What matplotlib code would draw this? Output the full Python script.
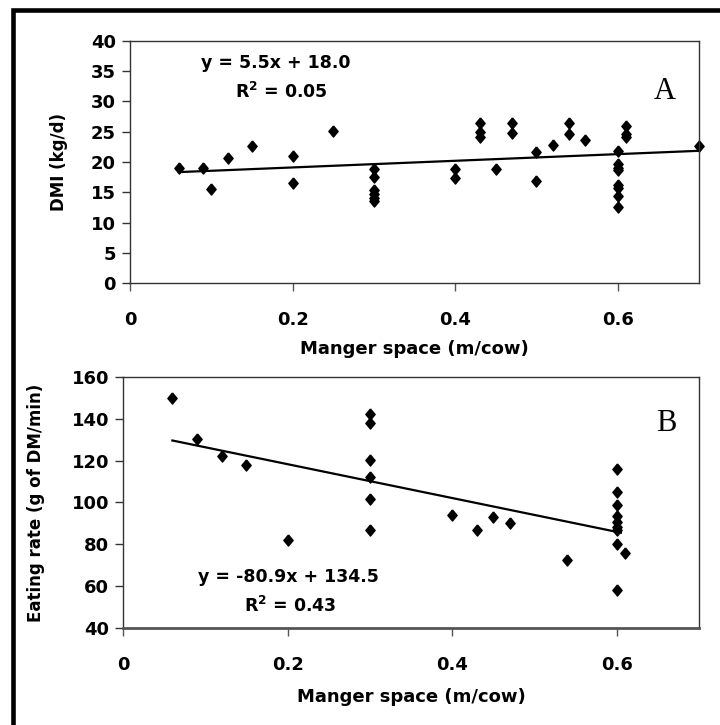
import numpy as np
import matplotlib
matplotlib.use('Agg')
import matplotlib.pyplot as plt
from matplotlib.patches import Rectangle

# Panel A: dry matter intake vs manger space
dmi_x = [0.06, 0.09, 0.10, 0.12, 0.15, 0.20, 0.20, 0.25,
         0.30, 0.30, 0.30, 0.30, 0.30, 0.30,
         0.40, 0.40, 0.43, 0.43, 0.43, 0.45, 0.47, 0.47,
         0.50, 0.50, 0.52, 0.54, 0.54, 0.56,
         0.60, 0.60, 0.60, 0.60, 0.60, 0.60, 0.60, 0.60,
         0.61, 0.61, 0.61, 0.70]
dmi_y = [19.0, 19.0, 15.6, 20.6, 22.7, 21.0, 16.6, 25.1,
         18.8, 17.6, 15.4, 14.7, 14.1, 13.5,
         18.8, 17.3, 26.5, 25.0, 24.2, 18.8, 26.5, 24.8,
         21.6, 16.8, 22.8, 26.4, 24.6, 23.6,
         21.9, 19.6, 19.0, 18.6, 16.2, 15.7, 14.3, 12.6,
         26.0, 24.6, 24.2, 22.6]
dmi_fit = (5.5, 18.0)
dmi_range = [0.06, 0.70]

# Panel B: eating rate vs manger space
rate_x = [0.06, 0.09, 0.12, 0.15, 0.20,
          0.30, 0.30, 0.30, 0.30, 0.30, 0.30,
          0.40, 0.43, 0.45, 0.47, 0.54,
          0.60, 0.60, 0.60, 0.60, 0.60, 0.60, 0.60, 0.60, 0.60,
          0.61]
rate_y = [150.0, 130.3, 122.1, 118.0, 82.1,
          142.4, 138.1, 120.1, 112.2, 101.9, 87.0,
          93.9, 87.0, 93.0, 90.1, 72.7,
          115.8, 105.0, 99.0, 93.5, 90.5, 88.5, 87.0, 80.0, 58.0,
          75.7]
rate_fit = (-80.9, 134.5)
rate_range = [0.06, 0.605]

x_ticks = [0, 0.2, 0.4, 0.6]
x_ticklabels = ['0', '0.2', '0.4', '0.6']

plt.rcParams['font.family'] = 'DejaVu Sans'
plt.rcParams['font.weight'] = 'bold'

W, H = 720, 725
fig = plt.figure(figsize=(W / 100, H / 100), dpi=100)

# Excel-style diamond, a little taller than wide
diamond = [(0, 1.2), (1, 0), (0, -1.2), (-1, 0), (0, 1.2)]


def px(l, t, r, b):
    return [l / W, 1 - b / H, (r - l) / W, (b - t) / H]


def style(ax, ylim, yticks):
    ax.set_xlim(0, 0.7)
    ax.set_ylim(*ylim)
    ax.set_xticks(x_ticks)
    ax.set_xticklabels(x_ticklabels)
    ax.set_yticks(yticks)
    for s in ax.spines.values():
        s.set_color('#333333')
        s.set_linewidth(1.0)
    ax.tick_params(axis='y', direction='out', length=6, width=1,
                   color='#333333', pad=4, labelsize=13)
    ax.tick_params(axis='x', direction='out', length=6, width=1,
                   color='#555555', pad=14, labelsize=13)
    for lab in ax.get_xticklabels() + ax.get_yticklabels():
        lab.set_fontweight('bold')


# ---- Panel A
ax1 = fig.add_axes(px(130, 41, 699, 283))
style(ax1, (0, 40), np.arange(0, 41, 5))
ax1.plot(dmi_x, dmi_y, linestyle='none', marker=diamond, color='black',
         markersize=8, clip_on=False)
xx = np.array(dmi_range)
ax1.plot(xx, dmi_fit[0] * xx + dmi_fit[1], color='black', lw=1.6)
ax1.text(0.179, 36.3, 'y = 5.5x + 18.0', ha='center', va='center',
         fontsize=12.5, fontweight='bold')
ax1.text(0.186, 31.6, r'R$^\mathbf{2}$ = 0.05', ha='center', va='center',
         fontsize=12.5, fontweight='bold')
ax1.text(0.658, 31.6, 'A', ha='center', va='center', fontsize=22,
         family='Liberation Serif', fontweight='normal')
ax1.set_ylabel('DMI (kg/d)', fontsize=12, fontweight='bold')
ax1.yaxis.set_label_coords(-0.109, 0.5)
ax1.set_xlabel('Manger space (m/cow)', fontsize=13, fontweight='bold')
ax1.xaxis.set_label_coords(0.5, -0.273)
ax1.xaxis.label.set_va('center')

# ---- Panel B
ax2 = fig.add_axes(px(123, 377, 699, 628))
style(ax2, (40, 160), np.arange(40, 161, 20))
ax2.spines['bottom'].set_linewidth(2.0)
ax2.spines['bottom'].set_color('#555555')
ax2.plot(rate_x, rate_y, linestyle='none', marker=diamond, color='black',
         markersize=8, clip_on=False)
xx = np.array(rate_range)
ax2.plot(xx, rate_fit[0] * xx + rate_fit[1], color='black', lw=1.6)
ax2.text(0.201, 64.4, 'y = -80.9x + 134.5', ha='center', va='center',
         fontsize=12.5, fontweight='bold')
ax2.text(0.203, 50.4, r'R$^\mathbf{2}$ = 0.43', ha='center', va='center',
         fontsize=12.5, fontweight='bold')
ax2.text(0.66, 138, 'B', ha='center', va='center', fontsize=22,
         family='Liberation Serif', fontweight='normal')
ax2.set_ylabel('Eating rate (g of DM/min)', fontsize=12, fontweight='bold')
ax2.yaxis.set_label_coords(-0.135, 0.5)
ax2.set_xlabel('Manger space (m/cow)', fontsize=13, fontweight='bold')
ax2.xaxis.set_label_coords(0.5, -0.275)
ax2.xaxis.label.set_va('center')

# outer frame, running off the right and bottom edges
fig.patches.append(Rectangle((13 / W, -0.2), 1.0, 1.2 - 10 / H,
                             transform=fig.transFigure, fill=False,
                             edgecolor='black', linewidth=3.3))

fig.savefig('out.png', dpi=100)
